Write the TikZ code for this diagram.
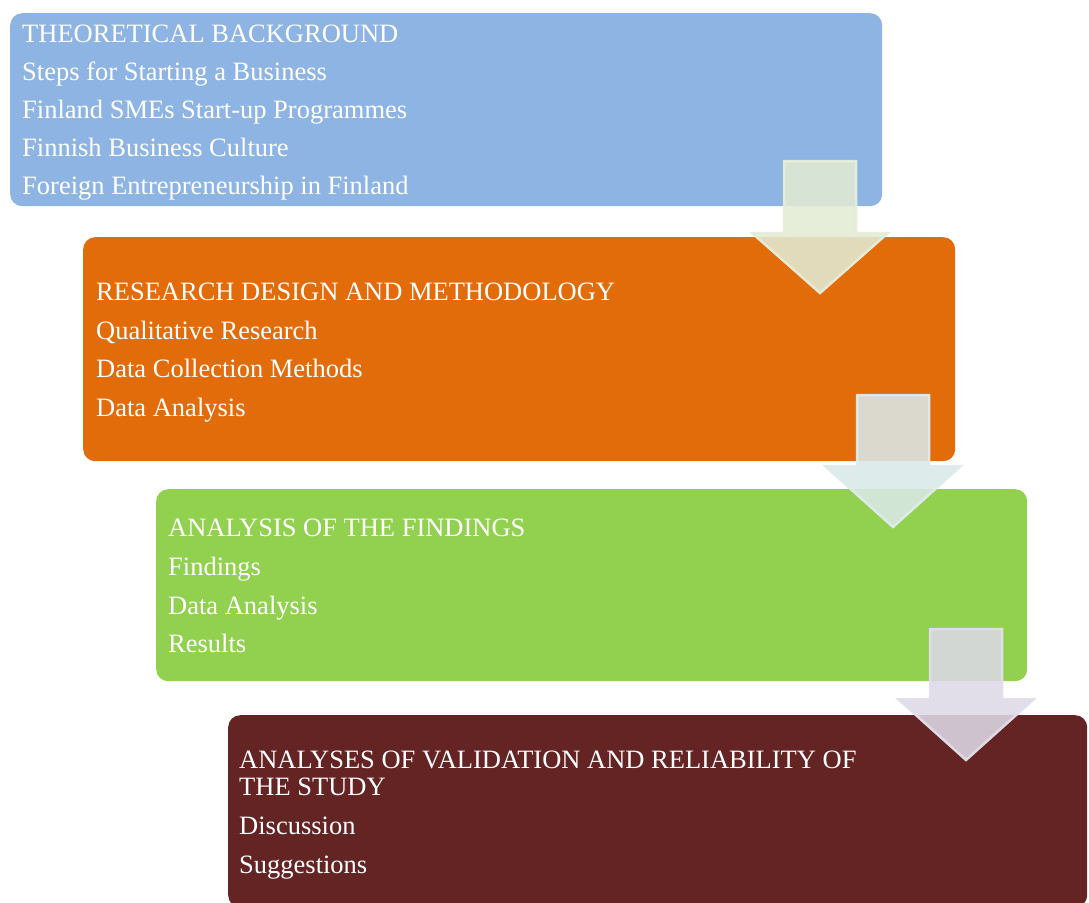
\documentclass[tikz,border=0pt]{standalone}
\usepackage{fontspec}
\setmainfont{Liberation Serif}
\definecolor{cblue}{HTML}{8EB4E3}
\definecolor{corange}{HTML}{E36C0A}
\definecolor{cgreen}{HTML}{92D050}
\definecolor{cmaroon}{HTML}{632423}
\definecolor{aone}{HTML}{E2EBD4}
\definecolor{atwo}{HTML}{DAE8E8}
\definecolor{athree}{HTML}{DDD9E7}
\begin{document}
\begin{tikzpicture}[x=1pt,y=-1pt,
  box/.style={rectangle,rounded corners=12pt,inner sep=0pt,anchor=north west,draw=none},
  txt/.style={anchor=base west,inner sep=0pt,text=white,font=\fontsize{26.5}{27}\selectfont},
  darrow/.style={line width=2.5pt,fill opacity=0.88,draw opacity=0.95,line join=miter}]
\useasboundingbox (0,0) rectangle (1089,902);
\node[box,fill=cblue,minimum width=872pt,minimum height=193pt] (b1) at (10,13) {};
\node[box,fill=corange,minimum width=872pt,minimum height=224pt] (b2) at (83,237) {};
\node[box,fill=cgreen,minimum width=871pt,minimum height=192pt] (b3) at (156,489) {};
\node[box,fill=cmaroon,minimum width=859pt,minimum height=192pt] (b4) at (228,715) {};
% arrows
\coordinate (a1) at (820,293);
\path[darrow,fill=aone,draw=aone!85!white] (784,161) -- (856,161) -- (856,233) -- (888,233) -- (a1) -- (752,233) -- (784,233) -- cycle;
\coordinate (a2) at (893,527);
\path[darrow,fill=atwo,draw=atwo!85!white] (857,395) -- (929,395) -- (929,466) -- (961,466) -- (a2) -- (825,466) -- (857,466) -- cycle;
\coordinate (a3) at (966,760);
\path[darrow,fill=athree,draw=athree!85!white] (930,629) -- (1002,629) -- (1002,699) -- (1034,699) -- (a3) -- (898,699) -- (930,699) -- cycle;
% texts
\node[txt] (t11) at (22,42) {THEORETICAL BACKGROUND};
\node[txt] (t12) at (22,80) {Steps for Starting a Business};
\node[txt] (t13) at (22,118) {Finland SMEs Start-up Programmes};
\node[txt] (t14) at (22,156) {Finnish Business Culture};
\node[txt] (t15) at (22,194) {Foreign Entrepreneurship in Finland};
\node[txt] (t21) at (96,300) {RESEARCH DESIGN AND METHODOLOGY};
\node[txt] (t22) at (96,339) {Qualitative Research};
\node[txt] (t23) at (96,377) {Data Collection Methods};
\node[txt] (t24) at (96,416) {Data Analysis};
\node[txt] (t31) at (168,536) {ANALYSIS OF THE FINDINGS};
\node[txt] (t32) at (168,575) {Findings};
\node[txt] (t33) at (168,614) {Data Analysis};
\node[txt] (t34) at (168,652) {Results};
\node[txt] (t41) at (239,768) {ANALYSES OF VALIDATION AND RELIABILITY OF};
\node[txt] (t42) at (239,795) {THE STUDY};
\node[txt] (t43) at (239,834) {Discussion};
\node[txt] (t44) at (239,873) {Suggestions};
\end{tikzpicture}
\end{document}
